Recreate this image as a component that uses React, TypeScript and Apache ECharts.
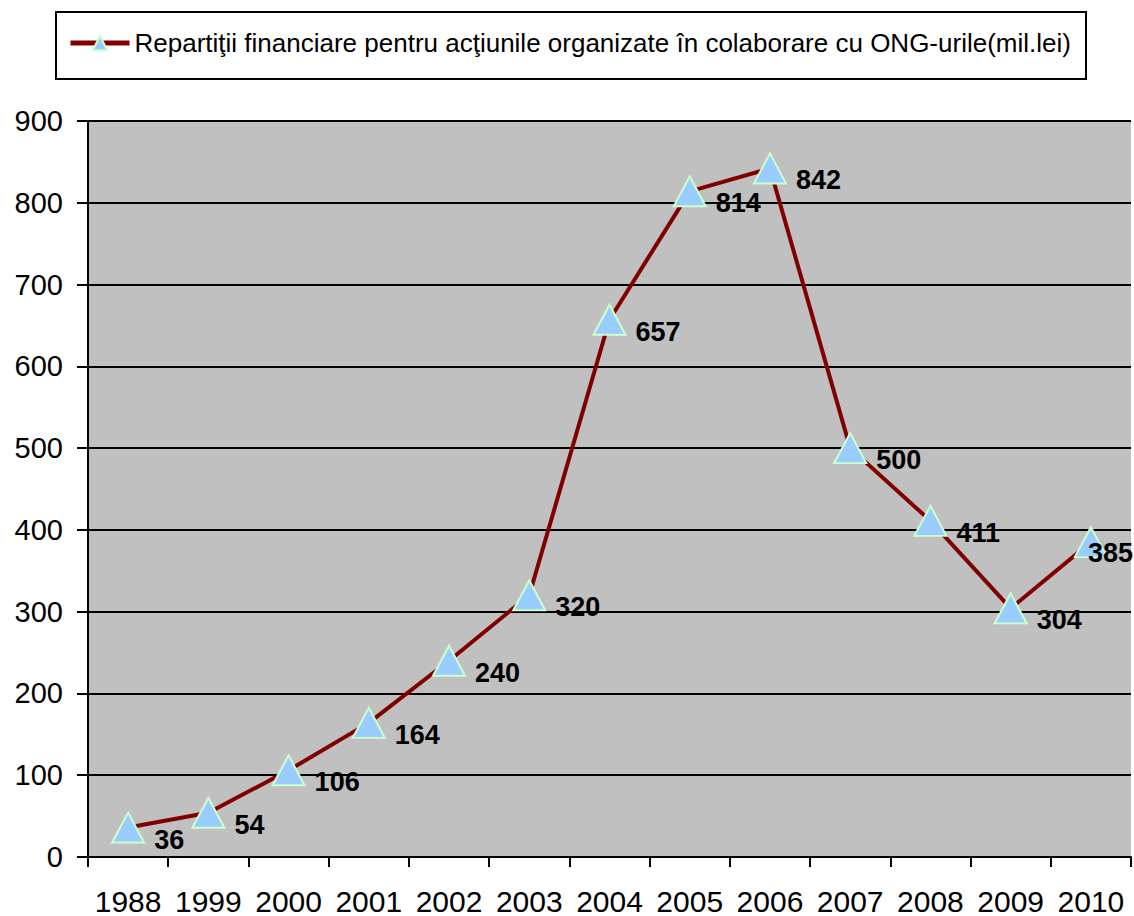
import React, { useEffect, useRef } from "react";
import * as echarts from "echarts";

const categories = ["1988", "1999", "2000", "2001", "2002", "2003", "2004", "2005", "2006", "2007", "2008", "2009", "2010"];
const values = [36, 54, 106, 164, 240, 320, 657, 814, 842, 500, 411, 304, 385];
const seriesName = "Repartiţii financiare pentru acţiunile organizate în colaborare cu ONG-urile(mil.lei)";
const yTicks = { min: 0, max: 900, interval: 100 };

export default function App() {
  const ref = useRef<HTMLDivElement>(null);
  useEffect(() => {
    document.body.style.margin = "0";
    const chart = echarts.init(ref.current!, null, { renderer: "svg" });
    const font = "Liberation Sans, Arial, sans-serif";
    chart.setOption({
      animation: false,
      backgroundColor: "#ffffff",
      textStyle: { fontFamily: font },
      graphic: [
        {
          type: "rect",
          shape: { x: 56, y: 12, width: 1030, height: 67 },
          style: { fill: "none", stroke: "#000", lineWidth: 2 },
          z: 1,
        },
      ],
      legend: {
        left: 68,
        top: 30,
        padding: 0,
        itemWidth: 59,
        itemHeight: 18,
        itemGap: 0,
        lineStyle: { width: 5, color: "#800000" },
        textStyle: { fontSize: 26, color: "#000", fontFamily: font },
        data: [{ name: seriesName }],
      },
      grid: {
        left: 88, right: 3, top: 121, bottom: 59,
        containLabel: false, outerBoundsMode: "none",
        show: true, backgroundColor: "#c0c0c0", borderWidth: 0,
      },
      xAxis: {
        type: "category",
        data: categories,
        boundaryGap: true,
        axisLine: { lineStyle: { color: "#000", width: 2 } },
        axisTick: { show: true, length: 10, lineStyle: { color: "#000", width: 2 }, alignWithLabel: false },
        axisLabel: { fontSize: 30, lineHeight: 30, color: "#000", margin: 29, fontFamily: font, interval: 0 },
        splitLine: { show: false },
      },
      yAxis: {
        type: "value",
        min: yTicks.min,
        max: yTicks.max,
        interval: yTicks.interval,
        axisLine: { show: true, lineStyle: { color: "#000", width: 2 } },
        axisTick: { show: true, length: 11, inside: false, lineStyle: { color: "#000", width: 2 } },
        axisLabel: { fontSize: 29, color: "#000", margin: 25, fontFamily: font },
        splitLine: { show: true, lineStyle: { color: "#000", width: 2 } },
      },
      series: [
        {
          name: seriesName,
          type: "line",
          data: values.map((v, i) =>
            i === values.length - 1
              ? { value: v, label: { offset: [-29, 11] } }
              : v
          ),
          symbol: "triangle",
          symbolSize: [32, 30],
          lineStyle: { color: "#800000", width: 4 },
          itemStyle: { color: "#99ccff", borderColor: "#ccffcc", borderWidth: 2 },
          label: {
            show: true,
            position: "right",
            distance: 9,
            offset: [0, 12],
            fontSize: 27,
            fontWeight: "bold",
            color: "#000",
            fontFamily: font,
          },
          z: 3,
        },
      ],
    });
    return () => chart.dispose();
  }, []);
  return <div ref={ref} style={{ position: "fixed", left: 0, top: 0, width: 1134, height: 916 }} />;
}
